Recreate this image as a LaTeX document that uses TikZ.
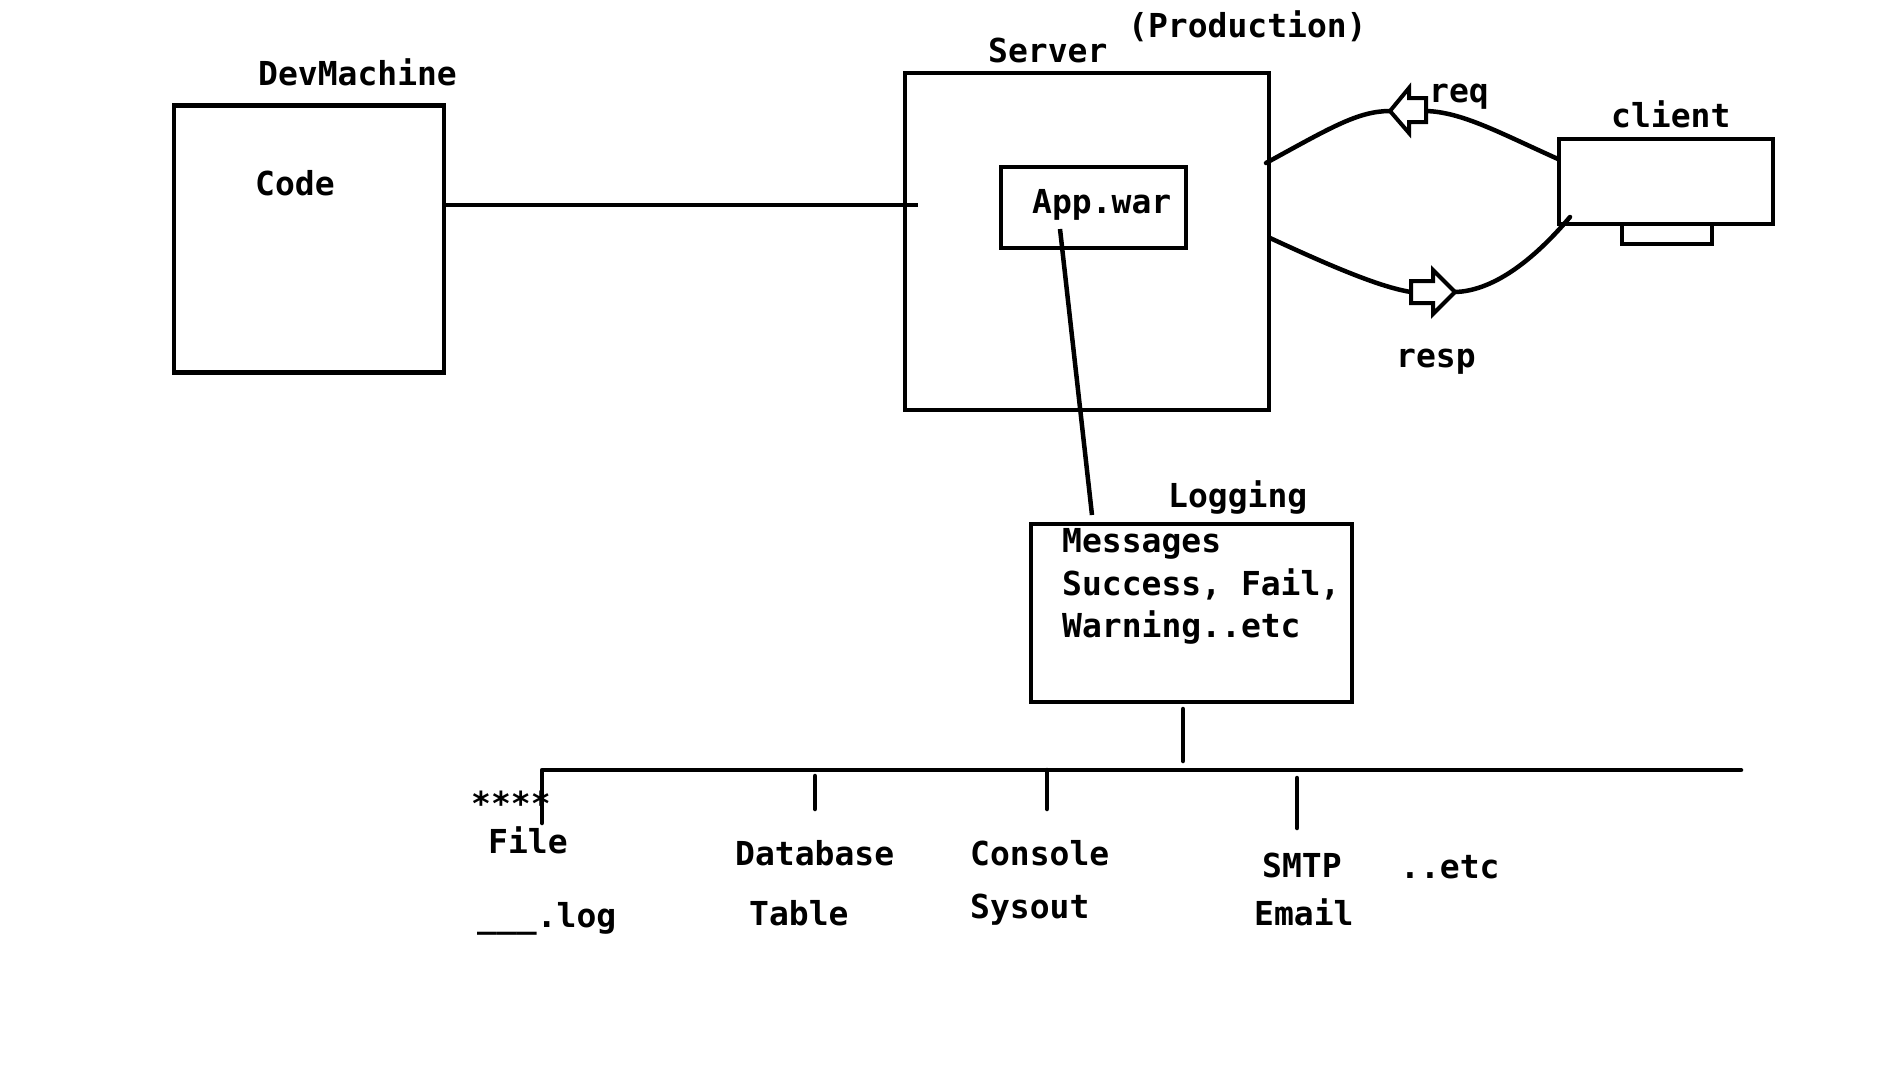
\documentclass[tikz,border=0pt]{standalone}
\usepackage{fontspec}
\setmainfont{DejaVu Sans Mono}
\begin{document}
\begin{tikzpicture}[x=1pt,y=-1pt,
  boxnode/.style={draw,line width=4.5pt,inner sep=0pt,rectangle},
  lbl/.style={anchor=base west,inner sep=0pt,font=\fontsize{33}{40}\selectfont\bfseries},
  wire/.style={line width=4.5pt},
  hollowarrow/.style={draw,fill=white,line width=4pt,line join=miter}]
\useasboundingbox (0,0) rectangle (1888,1072);

% boxes
\node[boxnode,minimum width=270,minimum height=267] (dev) at (309,239) {};
\node[boxnode,minimum width=364,minimum height=337] (server) at (1087,241.5) {};
\node[boxnode,minimum width=185,minimum height=81] (app) at (1093.5,207.5) {};
\node[boxnode,minimum width=321,minimum height=178] (logbox) at (1191.5,613) {};
\node[boxnode,line width=4pt,minimum width=90,minimum height=20] (stand) at (1667,234) {};
\node[boxnode,fill=white,minimum width=214,minimum height=85] (client) at (1666,181.5) {};

% labels
\node[lbl] (tdev) at (258,85) {DevMachine};
\node[lbl] (tcode) at (255,195) {Code};
\node[lbl] (tserver) at (988,62) {Server};
\node[lbl] (tprod) at (1128,37) {(Production)};
\node[lbl] (tapp) at (1032,213) {App.war};
\node[lbl] (treq) at (1429,102) {req};
\node[lbl] (tclient) at (1611,127) {client};
\node[lbl] (tresp) at (1396,367) {resp};
\node[lbl] (tlog) at (1168,507) {Logging};
\node[lbl] (tmsg1) at (1062,552) {Messages};
\node[lbl] (tmsg2) at (1062,595) {Success, Fail,};
\node[lbl] (tmsg3) at (1062,637) {Warning..etc};
\node[lbl] (tstars) at (471,815) {****};
\node[lbl] (tfile) at (488,853) {File};
\node[lbl] (tdotlog) at (477,927) {\_\_\_.log};
\node[lbl] (tdb) at (735,865) {Database};
\node[lbl] (ttable) at (749,925) {Table};
\node[lbl] (tconsole) at (970,865) {Console};
\node[lbl] (tsysout) at (970,918) {Sysout};
\node[lbl] (tsmtp) at (1262,877) {SMTP};
\node[lbl] (temail) at (1254,925) {Email};
\node[lbl] (tetc) at (1400,878) {..etc};

% connector end points
\coordinate (devout) at (444,205);
\coordinate (srvin) at (918,205);
\coordinate (appout) at (1060,229);
\coordinate (login) at (1092,515);
\coordinate (srvreq) at (1266,163);
\coordinate (reqtip) at (1390,111);
\coordinate (reqrear) at (1426,111);
\coordinate (clireq) at (1558,159);
\coordinate (srvresp) at (1270,238);
\coordinate (resprear) at (1411,292);
\coordinate (resptip) at (1455,292);
\coordinate (cliresp) at (1570,217);
\coordinate (logout) at (1183,709);
\coordinate (logbus) at (1183,761);
\coordinate (busright) at (1741,770);
\coordinate (busleft) at (542,770);
\coordinate (fileend) at (542,823);
\coordinate (dbtop) at (815,776);
\coordinate (dbend) at (815,809);
\coordinate (contop) at (1047,770);
\coordinate (conend) at (1047,809);
\coordinate (smtptop) at (1297,778);
\coordinate (smtpend) at (1297,828);

% connectors
\draw[wire] (devout) -- (srvin);
\draw[wire] (appout) -- (login);
\draw[wire,line cap=round] (srvreq) .. controls (1330,128) and (1358,111) .. (reqtip);
\draw[wire,line cap=round] (reqrear) .. controls (1462,112) and (1500,133) .. (clireq);
\draw[wire,line cap=round] (srvresp) .. controls (1322,262) and (1378,287) .. (resprear);
\draw[wire,line cap=round] (resptip) .. controls (1492,291) and (1532,262) .. (cliresp);

% hollow arrows
\draw[hollowarrow] (reqtip) -- (1409,88) -- (1409,98) -- (1426,98) -- (1426,122) -- (1409,122) -- (1409,133) -- cycle;
\draw[hollowarrow] (resprear) ++(0,-11) -- (1433,281) -- (1433,270) -- (resptip) -- (1433,314) -- (1433,303) -- (1411,303) -- cycle;

% bus
\draw[wire,line cap=round] (logout) -- (logbus);
\draw[wire,line cap=round,line join=round] (busright) -- (busleft) -- (fileend);
\draw[wire,line cap=round] (dbtop) -- (dbend);
\draw[wire,line cap=round] (contop) -- (conend);
\draw[wire,line cap=round] (smtptop) -- (smtpend);
\end{tikzpicture}
\end{document}
